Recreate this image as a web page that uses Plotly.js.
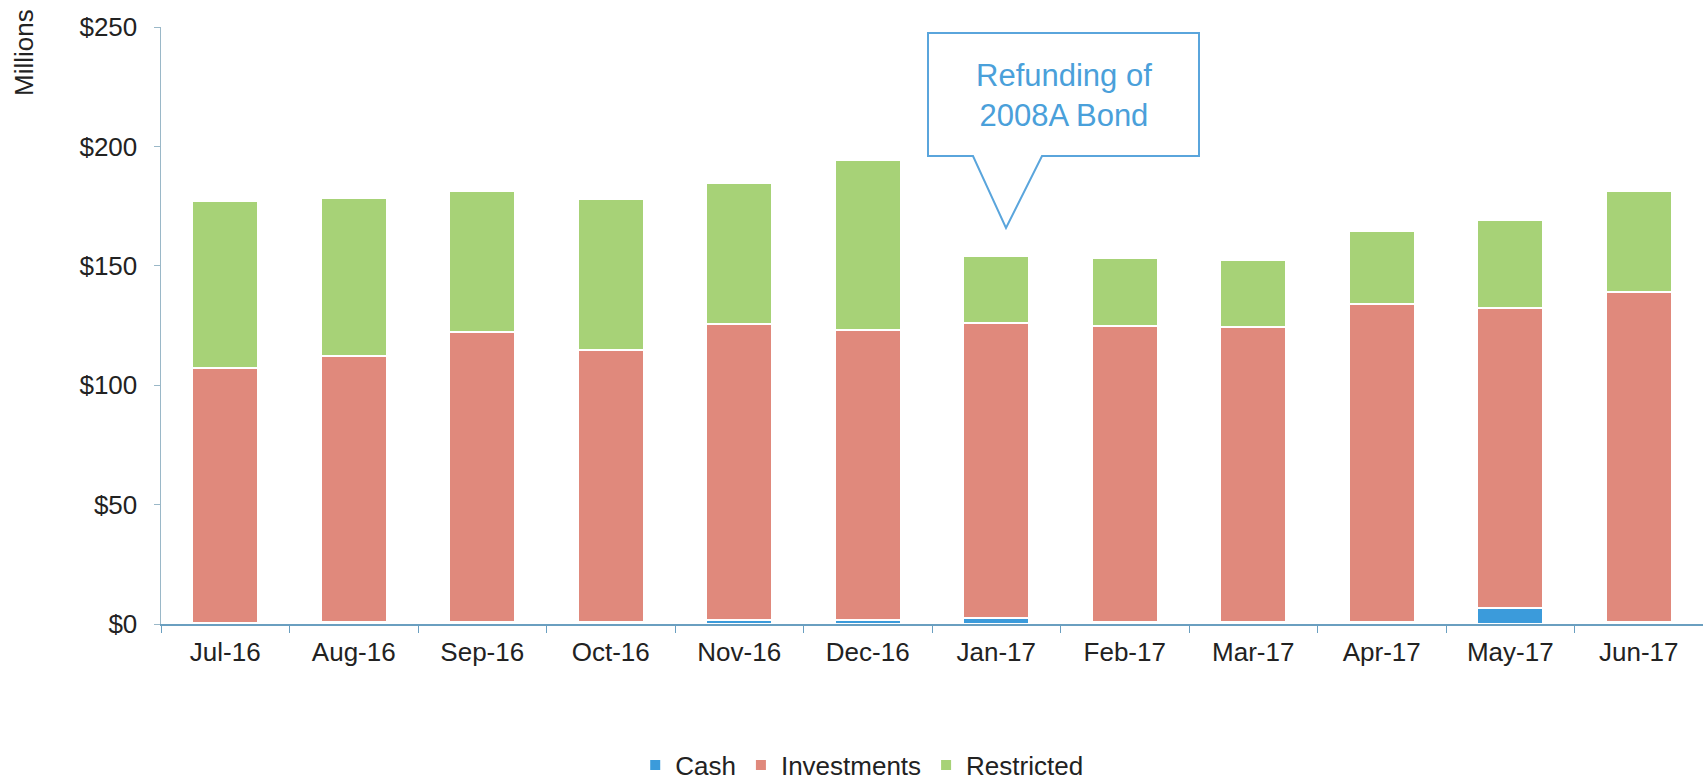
<!DOCTYPE html>
<html>
<head>
<meta charset="utf-8">
<script src="https://cdn.plot.ly/plotly-3.0.1.min.js"></script>
<style>html,body{margin:0;padding:0;background:#fff;}#chart{width:1703px;height:783px;}</style>
</head>
<body>
<div id="chart"></div>
<script>
// ---- data (millions of dollars) ----
const months = ["Jul-16","Aug-16","Sep-16","Oct-16","Nov-16","Dec-16","Jan-17","Feb-17","Mar-17","Apr-17","May-17","Jun-17"];
const cash = [0.5, 1.0, 1.0, 1.0, 1.5, 1.5, 2.5, 1.0, 1.0, 1.0, 6.5, 1.0];
const investments = [106.7, 111.1, 121.1, 113.6, 124.0, 121.8, 123.5, 123.7, 123.5, 132.9, 125.8, 138.2];
const restricted = [70.1, 66.4, 59.2, 63.5, 59.0, 71.2, 28.1, 28.7, 27.8, 30.7, 36.9, 42.1];
const yTicks = [0, 50, 100, 150, 200, 250];
const yTickText = ["$0", "$50", "$100", "$150", "$200", "$250"];
const seriesNames = ["Cash", "Investments", "Restricted"];
const calloutText = "Refunding of<br>2008A Bond";

// ---- layout geometry ----
const W = 1703, H = 783;
const M = {l: 161, r: 0, t: 27, b: 159};
const PW = W - M.l - M.r, PH = H - M.t - M.b;
const px = x => (x - M.l) / PW;
const py = y => (H - M.b - y) / PH;

const font = "Liberation Sans, Arial, sans-serif";
const colors = ["#3b9bdb", "#e0897c", "#a7d277"];
const line = {color: "#ffffff", width: 2};

const traces = [cash, investments, restricted].map((vals, i) => ({
  type: "bar",
  name: seriesNames[i],
  x: months,
  y: vals,
  marker: {color: colors[i], line: line},
  hoverinfo: "x+y+name"
}));

const pts = [[928,33],[1199,33],[1199,156],[1042,156],[1006,228],[973,156],[928,156]];
const path = "M" + pts.map(p => px(p[0]).toFixed(5) + "," + py(p[1]).toFixed(5)).join(" L") + " Z";

const layout = {
  width: W, height: H,
  margin: M,
  paper_bgcolor: "#ffffff",
  plot_bgcolor: "#ffffff",
  barmode: "stack",
  bargap: 0.49,
  font: {family: font, size: 26, color: "#222222"},
  showlegend: true,
  legend: {
    orientation: "h",
    xref: "container", yref: "container",
    x: 0.506, y: (H - 765) / H,
    xanchor: "center", yanchor: "middle",
    font: {family: font, size: 26, color: "#222222"},
    traceorder: "normal"
  },
  xaxis: {
    type: "category",
    showline: true, linecolor: "#6a9fc0", linewidth: 1.5,
    ticks: "outside", tickson: "boundaries", ticklen: 7, tickcolor: "#6a9fc0",
    showgrid: false, zeroline: false,
    tickfont: {family: font, size: 26, color: "#222222"},
    ticklabelstandoff: 4
  },
  yaxis: {
    range: [0, 250],
    tickmode: "array",
    tickvals: yTicks,
    ticktext: yTickText,
    showline: true, linecolor: "#9ab8c8", linewidth: 1.5,
    ticks: "outside", ticklen: 6, tickcolor: "#9ab8c8",
    showgrid: false, zeroline: false,
    tickfont: {family: font, size: 26, color: "#222222"},
    ticklabelstandoff: 11
  },
  shapes: [{
    type: "path", xref: "paper", yref: "paper",
    path: path,
    line: {color: "#5aa5dc", width: 2},
    fillcolor: "rgba(255,255,255,0)"
  }],
  annotations: [
    {
      xref: "paper", yref: "paper",
      x: px(1064), y: py(95),
      xanchor: "center", yanchor: "middle",
      text: calloutText, showarrow: false,
      font: {family: font, size: 31, color: "#4aa0da"}
    },
    {
      xref: "paper", yref: "paper",
      x: px(24), y: py(53),
      xanchor: "center", yanchor: "middle",
      text: "Millions", textangle: -90, showarrow: false,
      font: {family: font, size: 26, color: "#222222"}
    }
  ]
};

Plotly.newPlot("chart", traces, layout, {displayModeBar: false, staticPlot: true});
</script>
</body>
</html>
